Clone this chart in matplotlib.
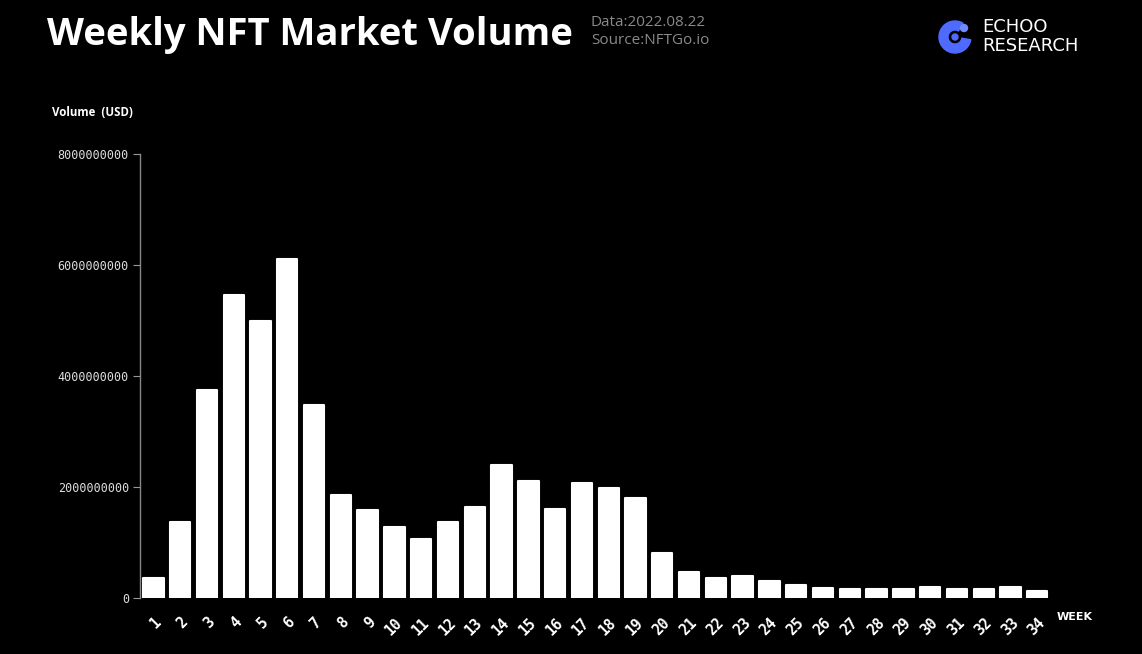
import numpy as np
import matplotlib.pyplot as plt
from matplotlib.patches import Circle, Wedge

# weekly volume in USD
weeks = list(range(1, 35))
volume = [0.36e9, 1.37e9, 3.75e9, 5.46e9, 4.99e9, 6.11e9, 3.48e9, 1.86e9,
          1.59e9, 1.28e9, 1.06e9, 1.37e9, 1.64e9, 2.40e9, 2.11e9, 1.60e9,
          2.07e9, 1.98e9, 1.80e9, 0.81e9, 0.46e9, 0.36e9, 0.40e9, 0.30e9,
          0.23e9, 0.18e9, 0.16e9, 0.17e9, 0.16e9, 0.20e9, 0.16e9, 0.16e9,
          0.19e9, 0.13e9]
yticks = [0, 2000000000, 4000000000, 6000000000, 8000000000]

fig = plt.figure(figsize=(11.42, 6.54), dpi=100, facecolor="black")
ax = fig.add_axes([0.1226, 0.0856, 0.7974, 0.6789])
ax.set_facecolor("black")

# bars
ax.bar(weeks, volume, width=0.76, color="white", edgecolor="white",
       linewidth=1.5, joinstyle="round")

ax.set_xlim(0.5, 34.5)
ax.set_ylim(0, 8e9)
ax.set_yticks(yticks)
ax.set_yticklabels([str(v) for v in yticks], family="DejaVu Sans Mono",
                   fontsize=8.5, color="#dddddd")
ax.set_xticks(weeks)
ax.set_xticklabels([str(w) for w in weeks], rotation=45, ha="right",
                   rotation_mode="anchor", family="DejaVu Sans Mono",
                   fontsize=10.5, fontweight="bold", color="white")
ax.tick_params(axis="y", colors="#999999", length=5, pad=3, labelcolor="#dddddd")
ax.tick_params(axis="x", length=0, pad=12)
for s in ["top", "right", "bottom"]:
    ax.spines[s].set_visible(False)
ax.spines["left"].set_color("#888888")
ax.spines["left"].set_linewidth(1)

# texts
fig.text(47 / 1142, 1 - 45 / 654, "Weekly NFT Market Volume", color="white",
         fontsize=27.5, fontweight="bold", family="Open Sans", va="baseline")
fig.text(591 / 1142, 1 - 26 / 654, "Data:2022.08.22", color="#8a8a8a",
         fontsize=11, family="Open Sans", va="baseline")
fig.text(591 / 1142, 1 - 44 / 654, "Source:NFTGo.io", color="#8a8a8a",
         fontsize=11, family="Open Sans", va="baseline")
fig.text(52 / 1142, 1 - 113 / 654, "Volume  (USD)", color="white",
         fontsize=8.3, fontweight="bold", family="Open Sans", va="center")
fig.text(1057 / 1142, 1 - 617 / 654, "WEEK", color="white",
         fontsize=8, fontweight="bold", family="DejaVu Sans", va="center")

# logo
lax = fig.add_axes([935 / 1142, 1 - 57 / 654, 40 / 1142, 40 / 654])
lax.set_xlim(0, 40)
lax.set_ylim(0, 40)
lax.set_aspect("equal")
lax.axis("off")
lax.add_patch(Wedge((20, 20), 16, 60, 350, width=9, color="#4f6bff"))
lax.add_patch(Circle((29, 29), 3.5, color="#6f8bff"))
lax.add_patch(Circle((20, 20), 3, color="#4f6bff"))
fig.text(982 / 1142, 1 - 27 / 654, "ECHOO", color="white", fontsize=13,
         family="DejaVu Sans", va="center")
fig.text(982 / 1142, 1 - 46 / 654, "RESEARCH", color="white", fontsize=13,
         family="DejaVu Sans", va="center")

fig.savefig("out.png", dpi=100, facecolor="black")
